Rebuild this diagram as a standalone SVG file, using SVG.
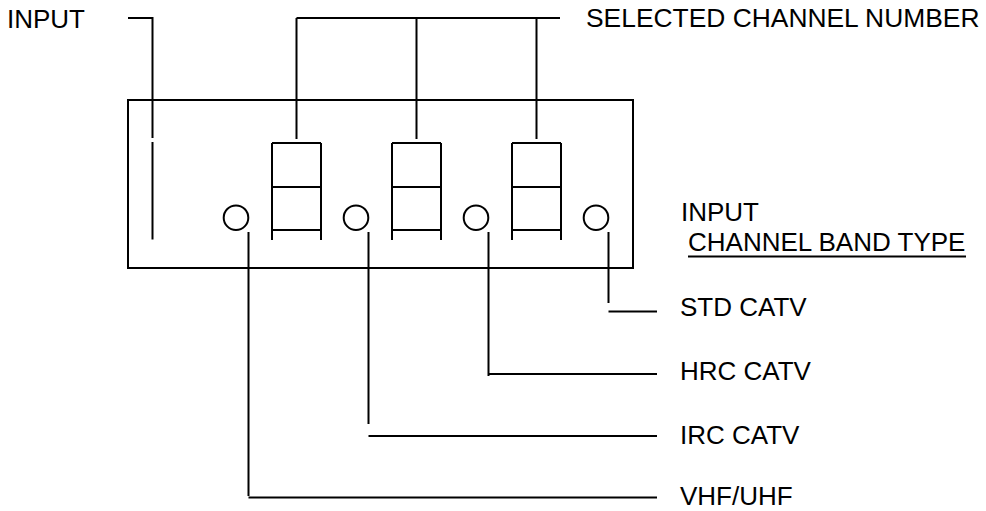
<svg xmlns="http://www.w3.org/2000/svg" width="986" height="511" viewBox="0 0 986 511">
<style>
.ln{fill:none;stroke:#000;stroke-width:2;stroke-linecap:butt}
.tx{font-family:"Liberation Sans",Arial,sans-serif;font-size:26px;fill:#000}
</style>
<defs>
<g id="digit" class="ln">
<path d="M0 143H49M0 187H49M0 230H49M0 143V240M49 143V240"/>
</g>
</defs>
<rect width="986" height="511" fill="#fff"/>
<g id="panel">
<rect class="ln" x="128" y="100" width="505" height="168"/>
</g>
<g id="digit1"><use href="#digit" x="272"/></g>
<g id="digit2"><use href="#digit" x="392"/></g>
<g id="digit3"><use href="#digit" x="512"/></g>
<g id="led-vhf"><circle class="ln" cx="236" cy="217.7" r="12.3"/></g>
<g id="led-irc"><circle class="ln" cx="356" cy="217.7" r="12.3"/></g>
<g id="led-hrc"><circle class="ln" cx="476" cy="217.7" r="12.3"/></g>
<g id="led-std"><circle class="ln" cx="596" cy="217.7" r="12.3"/></g>
<g id="connectors" class="ln">
<path d="M128 18H152.5V138M152.5 142V239.5"/>
<path d="M296.5 18H560M296.5 18V139M416.5 18V139M536.5 18V139"/>
<path d="M248.5 232V496M248.5 497.5H657"/>
<path d="M368.5 232V424M368.5 436H657"/>
<path d="M488.5 232V376M488.5 374H657"/>
<path d="M608.5 232V303M608.5 311.5H657"/>
</g>
<g id="label-input"><text class="tx" x="7" y="28">INPUT</text></g>
<g id="label-selected"><text class="tx" x="586" y="27" style="font-size:26.4px">SELECTED CHANNEL NUMBER</text></g>
<g id="label-band">
<text class="tx" x="681" y="220.5">INPUT</text>
<text class="tx" x="688" y="250.5">CHANNEL BAND TYPE</text>
<path class="ln" d="M688 256.5H966"/>
</g>
<g id="label-std"><text class="tx" x="680" y="316">STD CATV</text></g>
<g id="label-hrc"><text class="tx" x="680" y="380">HRC CATV</text></g>
<g id="label-irc"><text class="tx" x="680" y="444">IRC CATV</text></g>
<g id="label-vhf"><text class="tx" x="680" y="505">VHF/UHF</text></g>
</svg>
